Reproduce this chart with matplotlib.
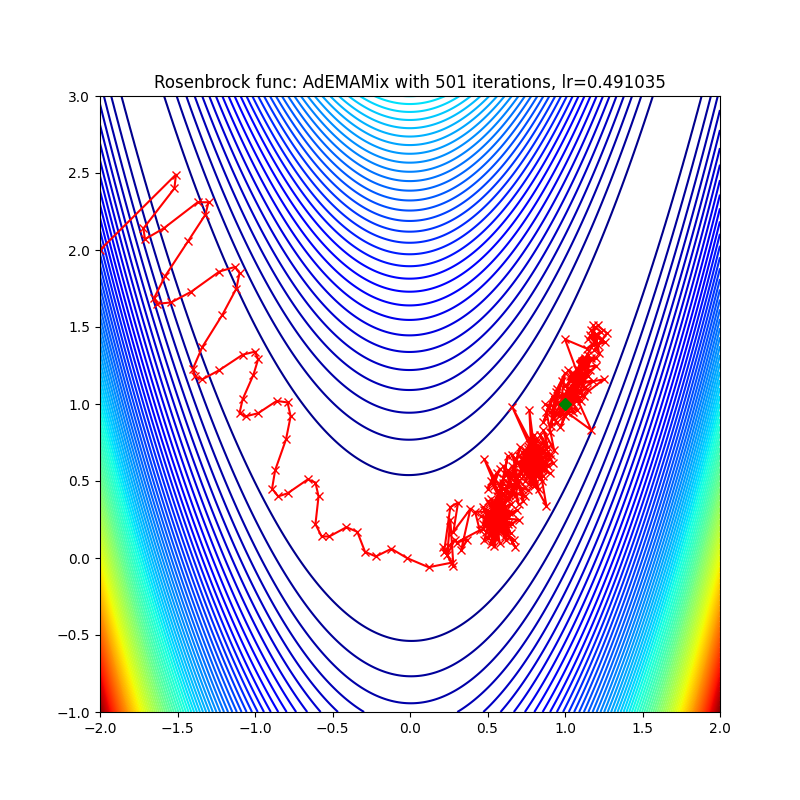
import numpy as np
import matplotlib
matplotlib.use("Agg")
import matplotlib.pyplot as plt

optimizer_name = "AdEMAMix"
n_iterations = 501
lr = 0.491035
minimum = (1.0, 1.0)

# Hand-read trajectory (x, y) pairs
path_points = [
    (-2.0, 2.0), (-1.51, 2.49), (-1.52, 2.40), (-1.72, 2.14), (-1.71, 2.07), (-1.59, 2.14),
    (-1.37, 2.31), (-1.30, 2.31), (-1.32, 2.23), (-1.43, 2.06), (-1.58, 1.83), (-1.65, 1.69),
    (-1.63, 1.65), (-1.54, 1.66), (-1.41, 1.73), (-1.23, 1.86), (-1.13, 1.89), (-1.10, 1.85),
    (-1.12, 1.75), (-1.21, 1.58), (-1.34, 1.37), (-1.40, 1.23), (-1.39, 1.18), (-1.34, 1.16),
    (-1.23, 1.22), (-1.08, 1.32), (-1.00, 1.34), (-0.98, 1.29), (-1.01, 1.19), (-1.08, 1.03),
    (-1.10, 0.94), (-1.06, 0.92), (-0.98, 0.94), (-0.86, 1.02), (-0.79, 1.01), (-0.77, 0.92),
    (-0.80, 0.77), (-0.87, 0.57), (-0.89, 0.45), (-0.85, 0.40), (-0.79, 0.42), (-0.66, 0.51),
    (-0.61, 0.49), (-0.59, 0.40), (-0.61, 0.22), (-0.57, 0.14), (-0.52, 0.14), (-0.41, 0.20),
    (-0.34, 0.17), (-0.29, 0.04), (-0.22, 0.01), (-0.12, 0.06), (-0.02, 0.0), (0.12, -0.06),
    (0.27, -0.03), (0.21, 0.07), (0.28, -0.05), (0.26, 0.25), (0.24, 0.02), (0.29, 0.12),
    (0.22, 0.04), (0.26, 0.33), (0.31, 0.36), (0.28, 0.17), (0.39, 0.32), (0.33, 0.05),
    (0.37, 0.12), (0.30, 0.10), (0.45, 0.18), (0.42, 0.30),
    (0.50, 0.30), (0.47, 0.22), (0.55, 0.35), (0.52, 0.15), (0.60, 0.28), (0.49, 0.26),
    (0.58, 0.10), (0.53, 0.32), (0.62, 0.20), (0.48, 0.12), (0.56, 0.40), (0.51, 0.24),
    (0.64, 0.30), (0.54, 0.08), (0.59, 0.36), (0.50, 0.20), (0.66, 0.22), (0.55, 0.28),
    (0.47, 0.33), (0.61, 0.14), (0.57, 0.25), (0.52, 0.38), (0.63, 0.27), (0.49, 0.17),
    (0.58, 0.31), (0.54, 0.21), (0.67, 0.12), (0.56, 0.19), (0.60, 0.42), (0.51, 0.29),
    (0.65, 0.35), (0.53, 0.26), (0.70, 0.25), (0.57, 0.17), (0.62, 0.38), (0.55, 0.23),
    (0.46, 0.27), (0.59, 0.20), (0.52, 0.34), (0.68, 0.07), (0.56, 0.29), (0.50, 0.13),
    (0.61, 0.33), (0.54, 0.18), (0.48, 0.31), (0.63, 0.22), (0.57, 0.44), (0.53, 0.11),
    (0.60, 0.25), (0.51, 0.36), (0.66, 0.29), (0.55, 0.16), (0.49, 0.23), (0.58, 0.38),
    (0.62, 0.12), (0.54, 0.30), (0.47, 0.19), (0.64, 0.41), (0.56, 0.24), (0.52, 0.09),
    (0.59, 0.33), (0.53, 0.20), (0.69, 0.31), (0.57, 0.27), (0.50, 0.37), (0.61, 0.18),
    (0.55, 0.32), (0.63, 0.46), (0.58, 0.22), (0.52, 0.28), (0.65, 0.16), (0.56, 0.36),
    (0.60, 0.49), (0.54, 0.26), (0.62, 0.31),
    (0.52, 0.50), (0.56, 0.55), (0.50, 0.45), (0.58, 0.58), (0.54, 0.47), (0.61, 0.40),
    (0.48, 0.64), (0.58, 0.40), (0.63, 0.66), (0.60, 0.52), (0.66, 0.45), (0.60, 0.60),
    (0.70, 0.50), (0.64, 0.38), (0.72, 0.58), (0.67, 0.47),
    (0.60, 0.45), (0.68, 0.40), (0.63, 0.55), (0.70, 0.35), (0.66, 0.60), (0.58, 0.48),
    (0.72, 0.45), (0.65, 0.52), (0.69, 0.62), (0.62, 0.44), (0.74, 0.40), (0.67, 0.55),
    (0.71, 0.72), (0.64, 0.49), (0.76, 0.44), (0.69, 0.52), (0.73, 0.37), (0.66, 0.67),
    (0.75, 0.55), (0.82, 0.68), (0.71, 0.62), (0.79, 0.48), (0.86, 0.60), (0.74, 0.70),
    (0.80, 0.57), (0.77, 0.64), (0.84, 0.52), (0.72, 0.59), (0.81, 0.73), (0.78, 0.50),
    (0.87, 0.66), (0.73, 0.53), (0.80, 0.63), (0.76, 0.71), (0.85, 0.57), (0.70, 0.66),
    (0.79, 0.60), (0.83, 0.45), (0.75, 0.67), (0.88, 0.62), (0.77, 0.54), (0.82, 0.76),
    (0.72, 0.64), (0.80, 0.52), (0.86, 0.70), (0.74, 0.58), (0.81, 0.61), (0.78, 0.69),
    (0.90, 0.55), (0.76, 0.62), (0.83, 0.66), (0.71, 0.56), (0.79, 0.74), (0.85, 0.50),
    (0.75, 0.60), (0.82, 0.58), (0.77, 0.78), (0.88, 0.68), (0.73, 0.65), (0.80, 0.47),
    (0.84, 0.63), (0.78, 0.57), (0.87, 0.74), (0.74, 0.50), (0.81, 0.66), (0.76, 0.73),
    (0.89, 0.60), (0.79, 0.55), (0.72, 0.69), (0.83, 0.61), (0.77, 0.59), (0.86, 0.53),
    (0.75, 0.64), (0.80, 0.80), (0.88, 0.34), (0.78, 0.52), (0.84, 0.70), (0.73, 0.61),
    (0.82, 0.55), (0.79, 0.67), (0.90, 0.64), (0.76, 0.57), (0.81, 0.77), (0.74, 0.66),
    (0.85, 0.59), (0.78, 0.63), (0.70, 0.53), (0.83, 0.72), (0.77, 0.48), (0.87, 0.58),
    (0.75, 0.69), (0.80, 0.60), (0.84, 0.66), (0.72, 0.57), (0.79, 0.71), (0.86, 0.63),
    (0.76, 0.54), (0.82, 0.62), (0.66, 0.98), (0.78, 0.75), (0.77, 0.96), (0.81, 0.64),
    (0.88, 0.71), (0.74, 0.62), (0.83, 0.57), (0.91, 0.67), (0.79, 0.64), (0.85, 0.75),
    (0.80, 0.56), (0.92, 0.62), (0.84, 0.80), (0.89, 0.72), (0.86, 0.83), (0.93, 0.70),
    (0.88, 0.95), (0.92, 1.05), (0.86, 0.88), (0.95, 1.10), (0.90, 0.82), (0.98, 1.15),
    (0.93, 0.98), (0.87, 1.00), (0.96, 0.92), (1.00, 1.20), (0.94, 1.08), (0.91, 0.86),
    (0.95, 0.88), (0.90, 0.95), (1.00, 0.92), (0.94, 1.02), (1.03, 0.98), (0.97, 0.85),
    (1.05, 1.05), (0.92, 0.90), (1.01, 1.08), (1.08, 0.96), (0.98, 1.00), (1.04, 1.12),
    (1.17, 0.83), (1.02, 0.94), (1.07, 1.10), (0.96, 1.05), (1.10, 1.02), (1.03, 1.18),
    (0.99, 0.96), (1.09, 1.15), (1.05, 1.00), (1.12, 1.20), (1.00, 1.12), (1.06, 1.06),
    (1.14, 1.10), (1.02, 1.22), (1.08, 1.13), (1.25, 1.16), (1.07, 1.02), (1.11, 1.25),
    (1.04, 1.08), (1.16, 1.22), (1.09, 1.18), (1.01, 1.02), (1.13, 1.28), (1.06, 1.14),
    (1.18, 1.15), (1.10, 1.08), (1.15, 1.32), (1.08, 1.23), (1.20, 1.25), (1.12, 1.16),
    (1.05, 1.20), (1.17, 1.30), (1.11, 1.12), (1.00, 1.42), (1.14, 1.36), (1.19, 1.40),
    (1.16, 1.45), (1.21, 1.38), (1.18, 1.51), (1.23, 1.47), (1.15, 1.42), (1.21, 1.51),
    (1.27, 1.46), (1.19, 1.35), (1.24, 1.42), (1.17, 1.48), (1.22, 1.33), (1.20, 1.44),
    (1.26, 1.40), (1.18, 1.38), (1.13, 1.30), (1.20, 1.30), (1.09, 1.22), (1.15, 1.18),
    (1.06, 1.10), (1.12, 1.05), (1.03, 1.03), (0.97, 0.93), (1.05, 0.95), (0.99, 1.04),
    (1.07, 1.16), (1.13, 1.24), (1.04, 1.15), (1.11, 1.28),
]
path_x = [p[0] for p in path_points]
path_y = [p[1] for p in path_points]


def rosenbrock(x, y):
    return (1 - x) ** 2 + 100 * (y - x ** 2) ** 2


x = np.linspace(-2, 2, 250)
y = np.linspace(-1, 3, 250)
X, Y = np.meshgrid(x, y)
Z = rosenbrock(X, Y)

fig = plt.figure(figsize=(8, 8), dpi=100)
ax = fig.add_subplot(1, 1, 1)
ax.contour(X, Y, Z, 90, cmap="jet")
ax.plot(path_x, path_y, color="r", marker="x")
ax.set_title("Rosenbrock func: {} with {} iterations, lr={:.6}".format(
    optimizer_name, n_iterations, lr))
ax.plot(path_x[-1], path_y[-1], "rD")
ax.plot(*minimum, "gD")
fig.savefig("out.png", dpi=100)
